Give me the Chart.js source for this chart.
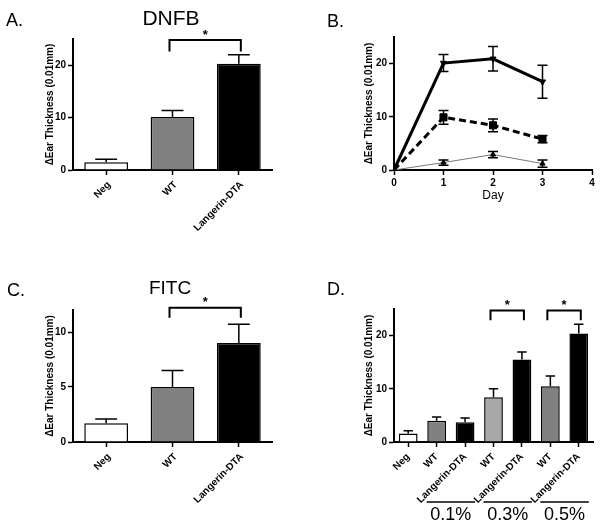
<!DOCTYPE html>
<html>
<head>
<meta charset="utf-8">
<title>Ear thickness</title>
<script src="https://cdn.jsdelivr.net/npm/chart.js@4.4.1/dist/chart.umd.min.js"></script>
<style>
  html, body { margin: 0; padding: 0; background: #fff; }
  #page { position: relative; width: 601px; height: 531px; overflow: hidden; }
  canvas { position: absolute; }
</style>
</head>
<body>
<div id="page">
  <canvas id="panelA" width="300" height="260" style="left:0;top:0"></canvas>
  <canvas id="panelB" width="301" height="260" style="left:300px;top:0"></canvas>
  <canvas id="panelC" width="300" height="271" style="left:0;top:260px"></canvas>
  <canvas id="panelD" width="301" height="271" style="left:300px;top:260px"></canvas>
</div>
<script>
// --- data ---
const groups = ['Neg', 'WT', 'Langerin-DTA'];
const dnfbMean = [1.5, 10.1, 20.3];
const dnfbSem = [0.55, 1.25, 1.7];
const fitcMean = [1.7, 5.0, 9.0];
const fitcSem = [0.4, 1.5, 1.7];

const days = [0, 1, 2, 3];
const dayTicks = [0, 1, 2, 3, 4];
const ldtaByDay = [0, 20.1, 20.9, 16.6];
const ldtaByDaySem = [0, 1.6, 2.3, 3.1];
const wtByDay = [0, 9.9, 8.4, 5.8];
const wtByDaySem = [0, 1.3, 1.2, 0.7];
const negByDay = [0, 1.4, 2.9, 1.2];
const negByDaySem = [0, 0.5, 0.6, 0.7];

const doseGroups = ['Neg', 'WT', 'Langerin-DTA', 'WT', 'Langerin-DTA', 'WT', 'Langerin-DTA'];
const doseMean = [1.6, 4.0, 3.7, 8.4, 15.5, 10.5, 20.4];
const doseSem = [0.5, 0.7, 0.8, 1.6, 1.4, 1.9, 1.75];
const doseLevels = ['0.1%', '0.3%', '0.5%'];

const FONT = '"Liberation Sans", Arial, sans-serif';
const yTitle = 'ΔEar Thickness (0.01mm)';

Chart.defaults.font.family = FONT;
Chart.defaults.color = '#000';
Chart.defaults.animation = false;
Chart.defaults.plugins.legend.display = false;
Chart.defaults.plugins.tooltip.enabled = false;

// Error bars (SEM) drawn from each bar / point
const errorBars = {
  id: 'errorBars',
  afterDatasetsDraw(chart) {
    const ctx = chart.ctx;
    const yScale = chart.scales.y;
    chart.data.datasets.forEach((ds, i) => {
      if (!ds.errors) return;
      const meta = chart.getDatasetMeta(i);
      meta.data.forEach((el, j) => {
        const err = ds.errors[j];
        if (!err) return;
        const raw = ds.data[j];
        const val = typeof raw === 'object' ? raw.y : raw;
        const cap = ds.capWidth || el.width / 2;
        const top = yScale.getPixelForValue(val + err);
        const bottom = ds.bothSides ? yScale.getPixelForValue(val - err) : el.y;
        ctx.save();
        ctx.strokeStyle = '#000';
        ctx.lineWidth = 1.5;
        ctx.beginPath();
        ctx.moveTo(el.x, bottom);
        ctx.lineTo(el.x, top);
        ctx.moveTo(el.x - cap / 2, top);
        ctx.lineTo(el.x + cap / 2, top);
        if (ds.bothSides) {
          ctx.moveTo(el.x - cap / 2, bottom);
          ctx.lineTo(el.x + cap / 2, bottom);
        }
        ctx.stroke();
        ctx.restore();
      });
    });
  }
};

// Panel letter, title, significance brackets and dose groups
const decor = {
  id: 'decor',
  afterDraw(chart, args, opts) {
    const ctx = chart.ctx;
    const xs = chart.scales.x, ys = chart.scales.y;
    ctx.save();
    ctx.fillStyle = '#000';
    ctx.strokeStyle = '#000';
    ctx.textBaseline = 'alphabetic';
    if (opts.letter) {
      ctx.font = '18px ' + FONT;
      ctx.textAlign = 'left';
      ctx.fillText(opts.letter.text, opts.letter.x, opts.letter.y);
    }
    if (opts.title) {
      ctx.font = opts.title.size + 'px ' + FONT;
      ctx.textAlign = 'center';
      ctx.fillText(opts.title.text, opts.title.x, opts.title.y);
    }
    (opts.brackets || []).forEach(b => {
      const x1 = xs.getPixelForValue(b.from) - 3;
      const x2 = xs.getPixelForValue(b.to) + 2;
      const yt = ys.getPixelForValue(b.level);
      const yb = ys.getPixelForValue(b.level - b.drop);
      ctx.lineWidth = 2;
      ctx.beginPath();
      ctx.moveTo(x1, yb);
      ctx.lineTo(x1, yt);
      ctx.lineTo(x2, yt);
      ctx.lineTo(x2, yb);
      ctx.stroke();
      ctx.font = 'bold 13px ' + FONT;
      ctx.textAlign = 'center';
      ctx.fillText('*', (x1 + x2) / 2, yt - 1.5);
    });
    if (opts.doses) {
      opts.doses.labels.forEach((lab, k) => {
        const a = xs.getPixelForValue(1 + 2 * k) - 10;
        const b = xs.getPixelForValue(2 + 2 * k) + 10;
        ctx.lineWidth = 1.5;
        ctx.beginPath();
        ctx.moveTo(a, opts.doses.lineY);
        ctx.lineTo(b, opts.doses.lineY);
        ctx.stroke();
        ctx.font = '18px ' + FONT;
        ctx.textAlign = 'center';
        ctx.fillText(lab, (a + b) / 2, opts.doses.textY);
      });
    }
    ctx.restore();
  }
};

function yAxis(max, step, width) {
  return {
    min: 0, max: max, bounds: 'data',
    afterFit: s => { s.width = width; },
    // keep only the round steps (no tick at the axis top)
    afterBuildTicks: s => { s.ticks = s.ticks.filter(t => t.value % step === 0); },
    ticks: { stepSize: step, padding: 2, font: { size: 10, weight: 'bold' }, color: '#000' },
    grid: { drawOnChartArea: false, tickLength: 5, tickColor: '#000', tickWidth: 1.5 },
    border: { color: '#000', width: 2 },
    title: { display: true, text: yTitle, padding: 0, color: '#000', font: { size: 10, weight: 'bold' } }
  };
}

function xCategory(height, shift) {
  return {
    offset: true,
    afterFit: s => { s.height = height; },
    ticks: { minRotation: 45, maxRotation: 45, autoSkip: false, padding: 4, labelOffset: shift,
      font: { size: 10, weight: 'bold' }, color: '#000' },
    grid: { offset: false, drawOnChartArea: false, tickLength: 5, tickColor: '#000', tickWidth: 1.5 },
    border: { color: '#000', width: 2 }
  };
}

function barChart(id, labels, means, sems, colors, yOpts, padding, xOpts, decorOpts) {
  return new Chart(document.getElementById(id), {
    type: 'bar',
    data: {
      labels: labels,
      datasets: [{
        data: means,
        errors: sems,
        backgroundColor: colors,
        borderColor: '#000',
        borderWidth: 1.5,
        barPercentage: 0.66,
        categoryPercentage: 1
      }]
    },
    options: {
      responsive: false,
      layout: { padding: padding },
      scales: { x: xOpts, y: yOpts },
      plugins: { decor: decorOpts }
    },
    plugins: [errorBars, decor]
  });
}

// A. DNFB
barChart('panelA', groups, dnfbMean, dnfbSem, ['#ffffff', '#808080', '#000000'],
  yAxis(25, 10, 29), { left: 44, right: 28, top: 39, bottom: 0 }, xCategory(90, 3), {
    letter: { text: 'A.', x: 6, y: 26 },
    title: { text: 'DNFB', x: 171, y: 25, size: 21 },
    brackets: [{ from: 1, to: 2, level: 24.8, drop: 2.2 }]
  });

// B. time course
const lineSeries = [
  { vals: ldtaByDay, sem: ldtaByDaySem, color: '#000', width: 3, dash: [], style: 'triangle', rot: 180, r: 3.5 },
  { vals: wtByDay, sem: wtByDaySem, color: '#000', width: 3, dash: [7, 4], style: 'rect', rot: 0, r: 5 },
  { vals: negByDay, sem: negByDaySem, color: '#777', width: 1, dash: [], style: 'triangle', rot: 0, r: 3 }
];
new Chart(document.getElementById('panelB'), {
  type: 'line',
  data: {
    datasets: lineSeries.map(s => ({
      data: days.map((d, i) => ({ x: d, y: s.vals[i] })),
      errors: s.sem,
      bothSides: true,
      capWidth: 10,
      borderColor: s.color,
      borderWidth: s.width,
      borderDash: s.dash,
      pointStyle: s.style,
      rotation: s.rot,
      pointRadius: days.map(d => (d === 0 ? 0 : s.r)),
      pointBackgroundColor: '#000',
      pointBorderColor: '#000',
      pointBorderWidth: 1,
      fill: false,
      tension: 0,
      clip: false
    }))
  },
  options: {
    responsive: false,
    layout: { padding: { left: 63, right: 9, top: 37, bottom: 57 } },
    scales: {
      x: {
        type: 'linear', min: dayTicks[0], max: dayTicks[dayTicks.length - 1], bounds: 'data',
        afterFit: s => { s.height = 33; },
        ticks: { stepSize: 1, padding: 2, font: { size: 10, weight: 'bold' }, color: '#000' },
        grid: { drawOnChartArea: false, tickLength: 5, tickColor: '#000', tickWidth: 1.5 },
        border: { color: '#000', width: 2 },
        title: { display: true, text: 'Day', padding: 0, color: '#000', font: { size: 12 } }
      },
      y: yAxis(25, 10, 31)
    },
    plugins: { decor: { letter: { text: 'B.', x: 27, y: 27 } } }
  },
  plugins: [errorBars, decor]
});

// C. FITC
barChart('panelC', groups, fitcMean, fitcSem, ['#ffffff', '#808080', '#000000'],
  yAxis(12, 5, 29), { left: 44, right: 28, top: 50, bottom: 0 }, xCategory(89, 3), {
    letter: { text: 'C.', x: 7, y: 36 },
    title: { text: 'FITC', x: 170, y: 34, size: 19 },
    brackets: [{ from: 1, to: 2, level: 12.2, drop: 0.9 }]
  });

// D. dose response
barChart('panelD', doseGroups, doseMean, doseSem,
  ['#ffffff', '#808080', '#000000', '#a8a8a8', '#000000', '#808080', '#000000'],
  yAxis(25, 10, 31), { left: 63, right: 8, top: 49, bottom: 0 }, xCategory(89, 0), {
    letter: { text: 'D.', x: 27, y: 35 },
    brackets: [
      { from: 3, to: 4, level: 24.7, drop: 1.8 },
      { from: 5, to: 6, level: 24.7, drop: 1.8 }
    ],
    doses: { labels: doseLevels, lineY: 242, textY: 260 }
  });
</script>
</body>
</html>
